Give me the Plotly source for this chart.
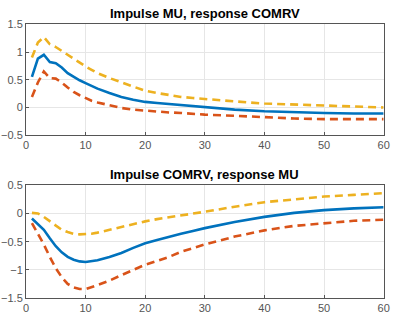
import plotly.graph_objects as go

x = [1, 2, 3, 4, 5, 6, 7, 8, 9, 10, 11, 12, 14, 16, 18, 20, 22, 24, 26, 28, 30, 35, 40, 45, 50, 55, 60]

top_mid = [0.55, 0.88, 0.95, 0.82, 0.80, 0.72, 0.62, 0.55, 0.49, 0.44, 0.39, 0.34, 0.26, 0.19, 0.14, 0.10, 0.08, 0.06, 0.04, 0.03, 0.01, -0.04, -0.07, -0.09, -0.10, -0.11, -0.11]
top_up = [0.90, 1.17, 1.27, 1.14, 1.09, 1.02, 0.95, 0.87, 0.80, 0.74, 0.68, 0.62, 0.53, 0.45, 0.37, 0.30, 0.26, 0.22, 0.19, 0.17, 0.15, 0.11, 0.07, 0.05, 0.03, 0.01, 0.00]
top_lo = [0.19, 0.45, 0.65, 0.53, 0.52, 0.45, 0.36, 0.28, 0.22, 0.17, 0.12, 0.09, 0.04, -0.01, -0.04, -0.06, -0.08, -0.09, -0.10, -0.12, -0.13, -0.15, -0.18, -0.20, -0.21, -0.21, -0.21]

bot_mid = [-0.09, -0.19, -0.29, -0.44, -0.58, -0.69, -0.77, -0.82, -0.85, -0.86, -0.85, -0.83, -0.77, -0.70, -0.61, -0.53, -0.47, -0.41, -0.36, -0.31, -0.26, -0.15, -0.06, 0.01, 0.06, 0.09, 0.11]
bot_up = [0.01, 0.0, -0.06, -0.14, -0.22, -0.29, -0.33, -0.36, -0.37, -0.37, -0.36, -0.34, -0.29, -0.24, -0.18, -0.14, -0.10, -0.07, -0.04, -0.01, 0.03, 0.12, 0.20, 0.25, 0.30, 0.33, 0.36]
bot_lo = [-0.17, -0.35, -0.55, -0.77, -0.97, -1.13, -1.25, -1.31, -1.34, -1.34, -1.31, -1.27, -1.19, -1.09, -1.00, -0.91, -0.84, -0.77, -0.68, -0.61, -0.55, -0.41, -0.30, -0.22, -0.17, -0.13, -0.11]

titles = ["Impulse MU, response COMRV", "Impulse COMRV, response MU"]
x_ticks = [0, 10, 20, 30, 40, 50, 60]
top_yticks = [-0.5, 0, 0.5, 1, 1.5]
bot_yticks = [-1.5, -1, -0.5, 0, 0.5]

BLUE, RED, YEL = "#0072BD", "#D95319", "#EDB120"
W, H = 396, 332

fig = go.Figure()

def add(xs, ys, color, dash, xa, ya):
    fig.add_trace(go.Scatter(x=xs, y=ys, mode="lines", xaxis=xa, yaxis=ya,
                             line=dict(color=color, width=2.6, dash=dash), showlegend=False))

add(x, top_up, YEL, "8px,5px", "x", "y")
add(x, top_lo, RED, "8px,5px", "x", "y")
add(x, top_mid, BLUE, "solid", "x", "y")
add(x, bot_up, YEL, "8px,5px", "x2", "y2")
add(x, bot_lo, RED, "8px,5px", "x2", "y2")
add(x, bot_mid, BLUE, "solid", "x2", "y2")

xd = [23.5 / W, 389.5 / W]
top_d = [1 - 134 / H, 1 - 19 / H]
bot_d = [1 - 303 / H, 1 - 186 / H]

tickfont = dict(family="Liberation Sans, Arial", size=11, color="#555555")
axcommon = dict(showline=True, mirror=True, linecolor="#555555", linewidth=1,
                showgrid=True, gridcolor="#e6e6e6", gridwidth=1, zeroline=False,
                ticks="inside", ticklen=3, tickcolor="#555555", tickfont=tickfont)

fig.update_layout(
    width=W, height=H, margin=dict(l=0, r=0, t=0, b=0),
    paper_bgcolor="white", plot_bgcolor="white",
    xaxis=dict(domain=xd, range=[0, 60], tickvals=x_ticks, anchor="y", **axcommon),
    yaxis=dict(domain=top_d, range=[-0.5, 1.5], tickvals=top_yticks, anchor="x", **axcommon),
    xaxis2=dict(domain=xd, range=[0, 60], tickvals=x_ticks, anchor="y2", **axcommon),
    yaxis2=dict(domain=bot_d, range=[-1.5, 0.5], tickvals=bot_yticks, anchor="x2", **axcommon),
)

for title, yy in zip(titles, [1 - 8 / H, 1 - 175 / H]):
    fig.add_annotation(text="<b>" + title + "</b>", x=(xd[0] + xd[1]) / 2, y=yy,
                       xref="paper", yref="paper", showarrow=False,
                       xanchor="center", yanchor="middle",
                       font=dict(family="Liberation Sans, Arial", size=13, color="#000000"))

fig.write_html("out.html")
